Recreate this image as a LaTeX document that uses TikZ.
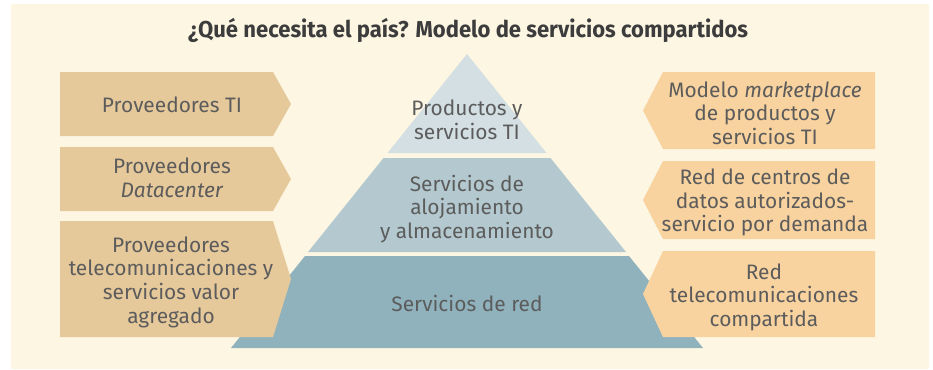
\documentclass[tikz,border=0pt]{standalone}
\usepackage{fontspec}
\setmainfont{Fira Sans}
\usepackage{graphicx}
\definecolor{bgcream}{HTML}{FDF6E2}
\definecolor{lefttan}{HTML}{E6C99B}
\definecolor{rightpeach}{HTML}{F9D39F}
\definecolor{pyrtop}{HTML}{D3DFE3}
\definecolor{pyrmid}{HTML}{B4C9CF}
\definecolor{pyrbot}{HTML}{90B2BD}
\definecolor{textgray}{HTML}{5C5C5C}
\definecolor{titlegray}{HTML}{3C3C3C}
\begin{document}
\begin{tikzpicture}[x=1pt,y=-1pt,
  txt/.style={font=\fontsize{20.9}{23.6}\selectfont, text=textgray, align=center, inner sep=0pt},
  leftbox/.style={fill=lefttan},
  rightbox/.style={fill=rightpeach}]
\useasboundingbox (0,0) rectangle (933,369);
\fill[bgcream] (11,4) rectangle (929,369);
% title
\node[font=\bfseries\fontsize{23}{27}\selectfont, text=titlegray, inner sep=0pt] (title) at (468,30.5)
  {\resizebox{560pt}{\height}{¿Qué necesita el país? Modelo de servicios compartidos}};
% pyramid
\fill[pyrtop] (467,54) -- (546.5,153) -- (387.5,153) -- cycle;
\fill[pyrmid] (383.5,158) -- (550.5,158) -- (626,252) -- (308,252) -- cycle;
\fill[pyrbot] (305,256) -- (629,256) -- (703,348) -- (231,348) -- cycle;
\node[txt] (p1) at (467,120) {Productos y\\servicios TI};
\node[txt] (p2) at (467,209) {Servicios de\\alojamiento\\y almacenamiento};
\node[txt] (p3) at (467,303.5) {Servicios de red};
% left boxes
\fill[leftbox] (60,72) -- (273,72) -- (291,104) -- (273,136) -- (60,136) -- cycle;
\fill[leftbox] (60,147) -- (273,147) -- (291,179) -- (273,211) -- (60,211) -- cycle;
\fill[leftbox] (60,221) -- (273,221) -- (291,279) -- (273,337) -- (60,337) -- cycle;
\node[txt] (l1) at (172,105) {Proveedores TI};
\node[txt] (l2) at (172,178) {Proveedores\\\textit{Datacenter}};
\node[txt] (l3) at (171,282) {Proveedores\\telecomunicaciones y\\servicios valor\\agregado};
% right boxes
\fill[rightbox] (875,72) -- (663,72) -- (643,110.5) -- (663,149) -- (875,149) -- cycle;
\fill[rightbox] (875,161) -- (663,161) -- (643,200) -- (663,239) -- (875,239) -- cycle;
\fill[rightbox] (875,251) -- (663,251) -- (643,294) -- (663,337) -- (875,337) -- cycle;
\node[txt] (r1) at (765,113) {Modelo \textit{marketplace}\\de productos y\\servicios TI};
\node[txt] (r2) at (765,202.5) {Red de centros de\\datos autorizados-\\servicio por demanda};
\node[txt] (r3) at (764,297) {Red\\telecomunicaciones\\compartida};
\end{tikzpicture}
\end{document}
